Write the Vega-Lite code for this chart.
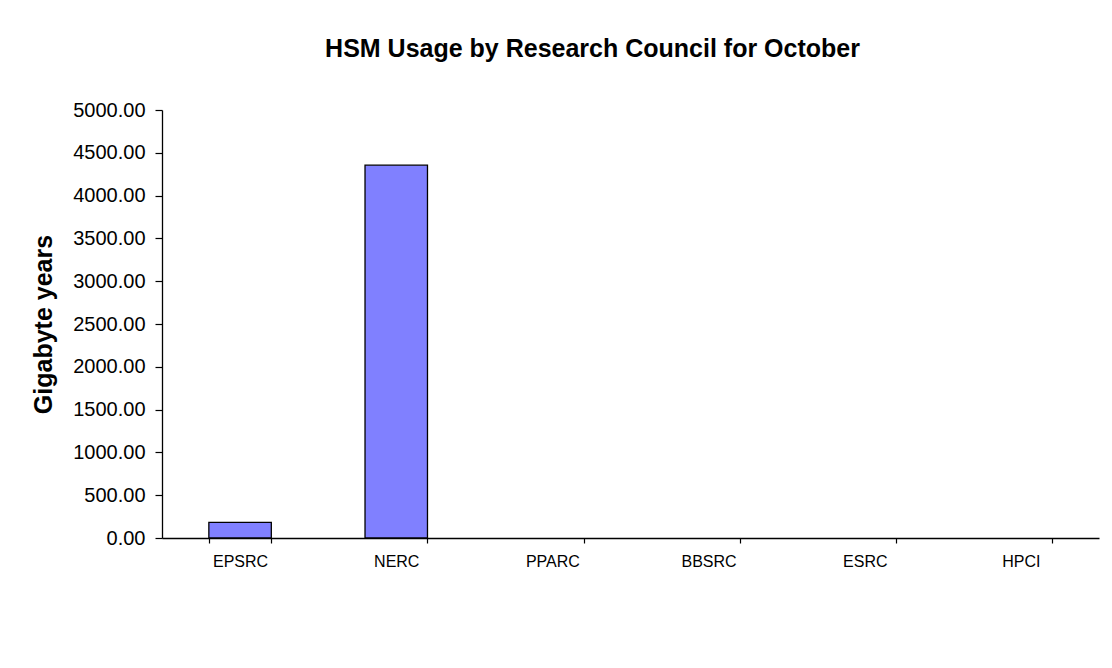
{
  "$schema": "https://vega.github.io/schema/vega-lite/v6.json",
  "autosize": "none",
  "width": 937,
  "height": 428,
  "padding": {"left": 162, "top": 110, "right": 13, "bottom": 130},
  "background": "white",
  "data": {
    "values": [
      {"council": "EPSRC", "gb_years": 182},
      {"council": "NERC", "gb_years": 4355},
      {"council": "PPARC", "gb_years": 0},
      {"council": "BBSRC", "gb_years": 0},
      {"council": "ESRC", "gb_years": 0},
      {"council": "HPCI", "gb_years": 0}
    ]
  },
  "title": {
    "text": "HSM Usage by Research Council for October",
    "frame": "group",
    "anchor": "middle",
    "baseline": "alphabetic",
    "offset": 18,
    "dx": -38,
    "font": "Liberation Sans",
    "fontSize": 25,
    "fontWeight": "bold",
    "color": "#000000"
  },
  "mark": {"type": "bar", "color": "#8080FF", "stroke": "#000000", "strokeWidth": 1.3},
  "encoding": {
    "x": {
      "field": "council",
      "type": "nominal",
      "sort": null,
      "title": null,
      "scale": {"paddingInner": 0.6, "paddingOuter": 0.3},
      "axis": {
        "labelAngle": 0,
        "labelFontSize": 16,
        "labelPadding": 10,
        "tickBand": "extent",
        "tickSize": 5
      }
    },
    "y": {
      "field": "gb_years",
      "type": "quantitative",
      "title": "Gigabyte years",
      "scale": {"domain": [0, 5000], "nice": false},
      "axis": {
        "values": [0, 500, 1000, 1500, 2000, 2500, 3000, 3500, 4000, 4500, 5000],
        "format": ".2f",
        "grid": false,
        "labelFontSize": 20,
        "labelPadding": 10,
        "tickSize": 7,
        "titleFontSize": 25,
        "titleX": -119,
        "titleY": 214,
        "titleBaseline": "middle",
        "titleAlign": "center",
        "titleAngle": -90
      }
    },
    "strokeOpacity": {
      "condition": {"test": "datum.gb_years > 0", "value": 1},
      "value": 0
    }
  },
  "config": {
    "view": {"stroke": null},
    "font": "Liberation Sans",
    "axis": {
      "domainColor": "#000000",
      "domainWidth": 1.3,
      "tickColor": "#000000",
      "tickWidth": 1.2,
      "labelColor": "#000000",
      "titleColor": "#000000",
      "titleFontWeight": "bold",
      "labelFont": "Liberation Sans",
      "titleFont": "Liberation Sans"
    }
  }
}
